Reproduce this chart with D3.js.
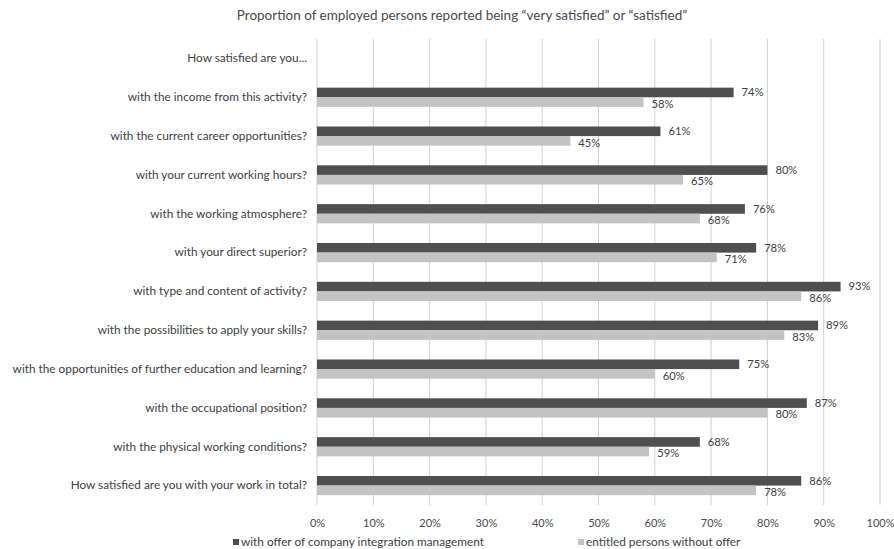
<!DOCTYPE html>
<html>
<head>
<meta charset="utf-8">
<script src="https://cdn.jsdelivr.net/npm/d3@7"></script>
<style>
    body { margin: 0; background: #ffffff; }
    svg { font-family: Lato, "Open Sans", sans-serif; }
</style>
</head>
<body>
<svg id="chart" width="894" height="549"></svg>
<script>
// categories, top to bottom
var categories = [
    "How satisfied are you...",
    "with the income from this activity?",
    "with the current career opportunities?",
    "with your current working hours?",
    "with the working atmosphere?",
    "with your direct superior?",
    "with type and content of activity?",
    "with the possibilities to apply your skills?",
    "with the opportunities of further education and learning?",
    "with the occupational position?",
    "with the physical working conditions?",
    "How satisfied are you with your work in total?"
];

// null = heading row without bars
var withOffer    = [null, 74, 61, 80, 76, 78, 93, 89, 75, 87, 68, 86];
var withoutOffer = [null, 58, 45, 65, 68, 71, 86, 83, 60, 80, 59, 78];

var seriesNames = ["with offer of company integration management", "entitled persons without offer"];
var ticks = [0, 10, 20, 30, 40, 50, 60, 70, 80, 90, 100];

var svg = d3.select("#chart");

// note: "top" is reserved on window, so use plot* names
var plotLeft = 317, plotRight = 880, plotTop = 39, plotBottom = 505;

var x = d3.scaleLinear().domain([0, 100]).range([plotLeft, plotRight]);
var y = d3.scaleBand().domain(categories).range([plotTop, plotBottom]);
var barH = 9.6;

// title
svg.append("text")
    .attr("x", 462)
    .attr("y", 20)
    .attr("text-anchor", "middle")
    .attr("font-size", 13.5)
    .attr("fill", "#4a4a4a")
    .text("Proportion of employed persons reported being \u201cvery satisfied\u201d or \u201csatisfied\u201d");

// gridlines
svg.append("g")
    .selectAll("line")
    .data(ticks)
    .enter()
    .append("line")
        .attr("x1", function (d) { return x(d); })
        .attr("x2", function (d) { return x(d); })
        .attr("y1", plotTop)
        .attr("y2", plotBottom)
        .attr("stroke", "#d0d0d0")
        .attr("stroke-width", 1);

// bottom tick labels
var axis = svg.append("g")
    .attr("transform", "translate(0," + plotBottom + ")")
    .call(d3.axisBottom(x)
        .tickValues(ticks)
        .tickSize(0)
        .tickPadding(14)
        .tickFormat(function (d) { return d + "%"; }));

axis.select(".domain").remove();
axis.selectAll("text")
    .attr("font-family", "Lato, 'Open Sans', sans-serif")
    .attr("font-size", 11)
    .attr("fill", "#4a4a4a");

// category labels
var yAxis = svg.append("g")
    .attr("transform", "translate(" + (plotLeft - 10) + ",0)")
    .call(d3.axisLeft(y).tickSize(0).tickPadding(0));

yAxis.select(".domain").remove();
yAxis.selectAll("text")
    .attr("font-family", "Lato, 'Open Sans', sans-serif")
    .attr("font-size", 11.8)
    .attr("fill", "#404040");

var rows = categories.map(function (c, i) {
    return { cat: c, a: withOffer[i], b: withoutOffer[i] };
}).filter(function (d) { return d.a !== null; });

var mid = function (d) { return y(d.cat) + y.bandwidth() / 2; };

// dark bars
svg.append("g")
    .selectAll("rect")
    .data(rows)
    .enter()
    .append("rect")
        .attr("x", x(0))
        .attr("y", function (d) { return mid(d) - barH; })
        .attr("width", function (d) { return x(d.a) - x(0); })
        .attr("height", barH)
        .attr("fill", "#4f4f4f");

// light bars
svg.append("g")
    .selectAll("rect")
    .data(rows)
    .enter()
    .append("rect")
        .attr("x", x(0))
        .attr("y", function (d) { return mid(d); })
        .attr("width", function (d) { return x(d.b) - x(0); })
        .attr("height", barH)
        .attr("fill", "#c3c3c3");

// value labels
var labels = svg.append("g")
    .attr("font-size", 11.2)
    .attr("fill", "#404040");

labels.selectAll("text.a")
    .data(rows)
    .enter()
    .append("text")
        .attr("class", "a")
        .attr("x", function (d) { return x(d.a) + 8; })
        .attr("y", function (d) { return mid(d) - 1; })
        .text(function (d) { return d.a + "%"; });

labels.selectAll("text.b")
    .data(rows)
    .enter()
    .append("text")
        .attr("class", "b")
        .attr("x", function (d) { return x(d.b) + 8; })
        .attr("y", function (d) { return mid(d) + 10.5; })
        .text(function (d) { return d.b + "%"; });

// legend
var legendX = [233, 578];
var legendColors = ["#4f4f4f", "#c3c3c3"];
var legend = svg.append("g");

seriesNames.forEach(function (name, i) {
    legend.append("rect")
        .attr("x", legendX[i])
        .attr("y", 539)
        .attr("width", 6)
        .attr("height", 6)
        .attr("fill", legendColors[i]);
    legend.append("text")
        .attr("x", legendX[i] + 8)
        .attr("y", 545.5)
        .attr("font-size", 11.8)
        .attr("fill", "#404040")
        .text(name);
});
</script>
</body>
</html>
